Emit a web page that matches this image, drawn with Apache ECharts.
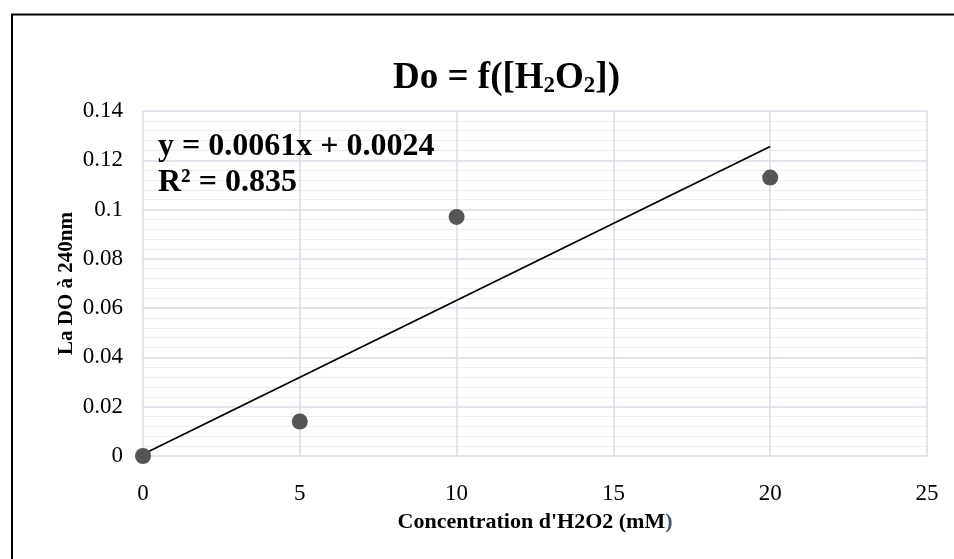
<!DOCTYPE html>
<html>
<head>
<meta charset="utf-8">
<title>Do = f([H2O2])</title>
<script src="https://cdn.jsdelivr.net/npm/echarts@6/dist/echarts.min.js"></script>
<style>
  html, body { margin: 0; padding: 0; background: #fff; }
  #chart { width: 954px; height: 559px; }
</style>
</head>
<body>
<div id="chart"></div>
<script>
// concentration H2O2 (mM) and absorbance
var concentration = [0, 5, 10, 20];
var absorbance = [0, 0.014, 0.097, 0.113];

// linear trendline endpoints as drawn over the data range
var trendX = [0, 20];
var trendY = [0.0007, 0.1256];

var equationText = "y = 0.0061x + 0.0024";
var r2Text = "R² = 0.835";

var serif = "'Liberation Serif', 'Times New Roman', serif";

var myChart = echarts.init(document.getElementById("chart"));

var points = [];
for (var i = 0; i < concentration.length; i++) {
	points.push([concentration[i], absorbance[i]]);
}
var trend = [];
for (var j = 0; j < trendX.length; j++) {
	trend.push([trendX[j], trendY[j]]);
}

var option = {
	animation: false,
	backgroundColor: "#fff",
	title: {
		text: "{t|Do = f([H}{s|2}{t|O}{s|2}{t|])}",
		left: 388,
		top: 53,
		textStyle: {
			rich: {
				t: { fontFamily: serif, fontWeight: "bold", fontSize: 37, color: "#000", lineHeight: 40, verticalAlign: "middle" },
				s: { fontFamily: serif, fontWeight: "bold", fontSize: 23, color: "#000", lineHeight: 22, verticalAlign: "bottom" }
			}
		}
	},
	grid: {
		left: 143,
		right: 27,
		top: 111,
		bottom: 103
	},
	xAxis: {
		type: "value",
		min: 0,
		max: 25,
		interval: 5,
		name: "{a|Concentration d'H2O2 (mM}{b|)}",
		nameLocation: "middle",
		nameGap: 55,
		nameMoveOverlap: false,
		nameTextStyle: {
			rich: {
				a: { fontFamily: serif, fontWeight: "bold", fontSize: 22, color: "#000" },
				b: { fontFamily: serif, fontWeight: "bold", fontSize: 22, color: "#44546a" }
			}
		},
		axisLine: { show: false },
		axisTick: { show: false },
		axisLabel: { fontFamily: serif, fontSize: 23, color: "#000", margin: 26 },
		splitLine: { show: true, lineStyle: { color: "#d9dce6", width: 1.5 } }
	},
	yAxis: {
		type: "value",
		min: 0,
		max: 0.14,
		interval: 0.02,
		name: "La DO à 240nm",
		nameLocation: "middle",
		nameGap: 66,
		nameMoveOverlap: false,
		nameTextStyle: { fontFamily: serif, fontWeight: "bold", fontSize: 21, color: "#000" },
		axisLine: { show: false },
		axisTick: { show: false },
		axisLabel: { fontFamily: serif, fontSize: 23, color: "#000", margin: 20 },
		splitLine: { show: true, lineStyle: { color: "#d9dce6", width: 1.5 } },
		minorTick: { show: false, splitNumber: 5 },
		minorSplitLine: { show: true, lineStyle: { color: "#eceef3", width: 1 } }
	},
	series: [
		{
			name: "trend",
			type: "line",
			data: trend,
			symbol: "none",
			lineStyle: { color: "#000", width: 1.8 },
			z: 3
		},
		{
			name: "DO",
			type: "scatter",
			data: points,
			symbol: "circle",
			symbolSize: 16,
			itemStyle: { color: "#555555", opacity: 1 },
			z: 4
		}
	],
	graphic: [
		{
			type: "rect",
			shape: { x: 12, y: 14.5, width: 980, height: 600 },
			style: { fill: "none", stroke: "#000", lineWidth: 2 },
			silent: true,
			z: 10
		},
		{
			type: "text",
			x: 158,
			y: 129,
			style: {
				text: equationText + "\n" + r2Text,
				fontFamily: serif,
				fontWeight: "bold",
				fontSize: 32,
				lineHeight: 36,
				fill: "#000"
			},
			z: 10
		}
	]
};

myChart.setOption(option);
</script>
</body>
</html>
